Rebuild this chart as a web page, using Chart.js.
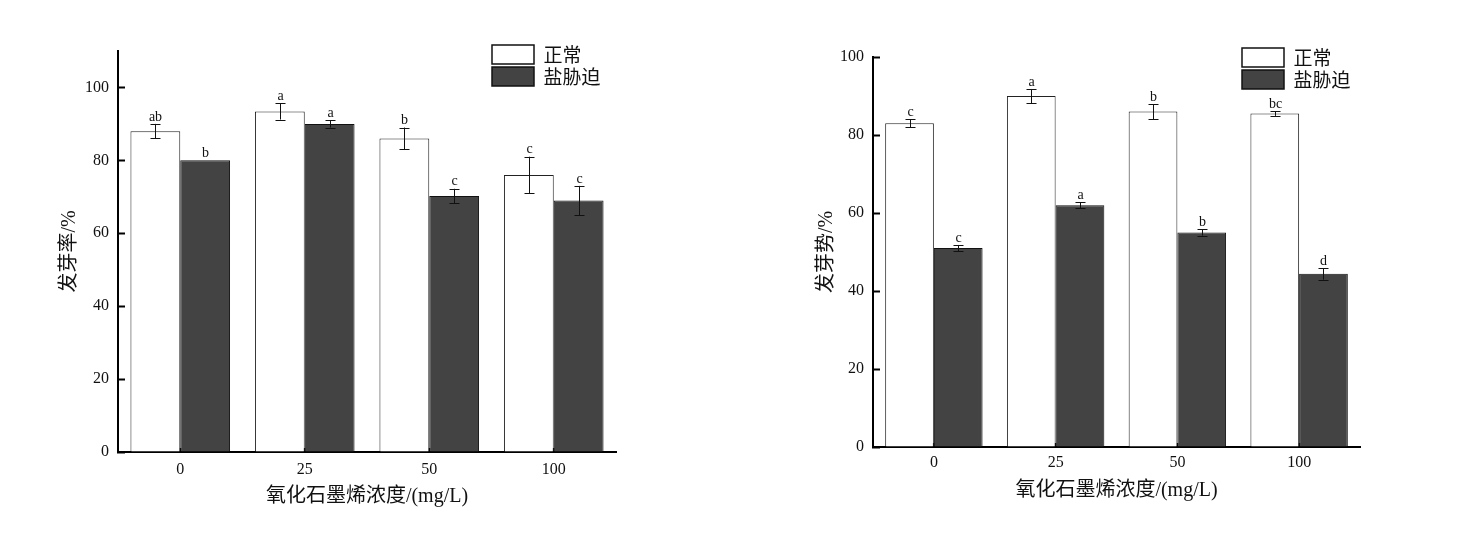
<!DOCTYPE html>
<html>
<head>
<meta charset="utf-8">
<script src="https://cdn.jsdelivr.net/npm/chart.js@4/dist/chart.umd.min.js"></script>
<style>
  html, body { margin: 0; padding: 0; background: #ffffff; }
  #wrap { position: relative; width: 1466px; height: 553px; }
  .panel { position: absolute; top: 0; width: 733px; height: 553px; }
</style>
</head>
<body>
<div id="wrap">
  <div class="panel" style="left:0"><canvas id="rateChart" width="733" height="553"></canvas></div>
  <div class="panel" style="left:733px"><canvas id="vigorChart" width="733" height="553"></canvas></div>
</div>
<script>
// 氧化石墨烯浓度 (mg/L)
const concentrations = ['0', '25', '50', '100'];
const seriesNames = ['正常', '盐胁迫'];

// 发芽率 /%
const rateNormal = [88, 93.4, 86, 76];
const rateNormalErr = [2, 2.2, 3, 5];
const rateNormalSig = ['ab', 'a', 'b', 'c'];
const rateSalt = [80, 90, 70.2, 69];
const rateSaltErr = [0, 1, 2, 4];
const rateSaltSig = ['b', 'a', 'c', 'c'];
const rateTicks = [0, 20, 40, 60, 80, 100];

// 发芽势 /%
const vigorNormal = [83, 90, 86, 85.5];
const vigorNormalErr = [1, 1.8, 1.9, 0.6];
const vigorNormalSig = ['c', 'a', 'b', 'bc'];
const vigorSalt = [51, 62, 55, 44.4];
const vigorSaltErr = [0.8, 0.8, 0.8, 1.5];
const vigorSaltSig = ['c', 'a', 'b', 'd'];
const vigorTicks = [0, 20, 40, 60, 80, 100];

const SERIF = '"Liberation Serif", "Noto Sans CJK SC", serif';
Chart.defaults.font.family = SERIF;
Chart.defaults.color = '#111';

// error bars with significance letters above each bar
const errorBars = {
  id: 'errorBars',
  afterDatasetsDraw(chart, args, opts) {
    const ctx = chart.ctx;
    const yScale = chart.scales.y;
    ctx.save();
    chart.data.datasets.forEach((ds, i) => {
      const meta = chart.getDatasetMeta(i);
      meta.data.forEach((bar, j) => {
        const v = ds.data[j];
        const e = ds.errors[j];
        const x = Math.round(bar.x) + 0.5;
        const top = yScale.getPixelForValue(v + e);
        const bot = yScale.getPixelForValue(v - e);
        if (e > 0) {
          const half = opts.capWidth / 2;
          ctx.strokeStyle = opts.color;
          ctx.lineWidth = 1;
          ctx.beginPath();
          ctx.moveTo(x, top); ctx.lineTo(x, bot);
          ctx.moveTo(x - half, Math.round(top) + 0.5); ctx.lineTo(x + half, Math.round(top) + 0.5);
          ctx.moveTo(x - half, Math.round(bot) + 0.5); ctx.lineTo(x + half, Math.round(bot) + 0.5);
          ctx.stroke();
        }
        ctx.fillStyle = opts.color;
        ctx.font = '14px ' + SERIF;
        ctx.textAlign = 'center';
        ctx.textBaseline = 'middle';
        ctx.fillText(ds.sig[j], x, top - opts.labelGap);
      });
    });
    ctx.restore();
  }
};

// places the vertical legend near the top-right corner of the plot
const legendPlacement = {
  id: 'legendPlacement',
  afterLayout(chart, args, opts) {
    const lg = chart.legend;
    const a = chart.chartArea;
    lg.left = a.right - opts.fromRight;
    lg.right = lg.left + lg.width + 20;
    lg.top = a.top + opts.fromTop;
    lg.bottom = lg.top + 60;
  }
};

function legendLabels(chart) {
  const items = Chart.defaults.plugins.legend.labels.generateLabels(chart);
  items.forEach(it => { it.lineWidth = 1.5; it.strokeStyle = '#111'; });
  return items;
}

function makeChart(id, cfg) {
  return new Chart(document.getElementById(id), {
    type: 'bar',
    data: {
      labels: concentrations,
      datasets: [
        {
          label: seriesNames[0], data: cfg.normal, errors: cfg.normalErr, sig: cfg.normalSig,
          backgroundColor: '#ffffff', borderColor: '#222222', borderWidth: 1,
          barPercentage: 1, categoryPercentage: 0.8
        },
        {
          label: seriesNames[1], data: cfg.salt, errors: cfg.saltErr, sig: cfg.saltSig,
          backgroundColor: '#434343', borderColor: '#111111', borderWidth: 1,
          barPercentage: 1, categoryPercentage: 0.8
        }
      ]
    },
    options: {
      responsive: false,
      animation: false,
      devicePixelRatio: 1,
      layout: { padding: { left: 0, right: cfg.padRight, top: cfg.padTop, bottom: 0 } },
      plugins: {
        tooltip: { enabled: false },
        legend: {
          position: 'chartArea',
          align: 'start',
          labels: {
            boxWidth: 42, boxHeight: 19, padding: 3,
            font: { size: 19, family: '"Noto Sans CJK SC", sans-serif' },
            color: '#111',
            generateLabels: legendLabels
          }
        },
        legendPlacement: cfg.legend,
        errorBars: { color: '#111', capWidth: 10, labelGap: 7 }
      },
      scales: {
        x: {
          offset: true,
          grid: { offset: false, drawOnChartArea: false, drawTicks: true, tickLength: -4, tickWidth: 2, tickColor: '#000' },
          border: { display: true, color: '#000', width: 2 },
          ticks: { font: { size: 16 }, color: '#111', padding: cfg.xTickPad, maxRotation: 0 },
          title: {
            display: true, text: '氧化石墨烯浓度/(mg/L)', color: '#111',
            font: { size: 20 }, padding: { top: 0, bottom: cfg.xTitlePad }
          },
          afterFit(s) { s.height = cfg.xHeight; }
        },
        y: {
          min: 0, max: cfg.yMax,
          afterBuildTicks(s) { s.ticks = cfg.ticks.map(v => ({ value: v })); },
          grid: { drawOnChartArea: false, drawTicks: true, tickLength: -7, tickWidth: 2, tickColor: '#000' },
          border: { display: true, color: '#000', width: 2 },
          ticks: { font: { size: 16 }, color: '#111', padding: 16 },
          title: {
            display: true, text: cfg.yTitle, color: '#111',
            font: { size: 20 }, padding: { top: cfg.yTitlePad, bottom: 0 }
          },
          afterFit(s) { s.width = cfg.yWidth; }
        }
      }
    },
    plugins: [errorBars, legendPlacement]
  });
}

makeChart('rateChart', {
  normal: rateNormal, normalErr: rateNormalErr, normalSig: rateNormalSig,
  salt: rateSalt, saltErr: rateSaltErr, saltSig: rateSaltSig,
  ticks: rateTicks, yMax: 110, yTitle: '发芽率/%',
  padRight: 117, padTop: 51, yWidth: 118, xHeight: 101,
  xTickPad: 12, xTitlePad: 44, yTitlePad: 58,
  legend: { fromRight: 127, fromTop: -9 }
});

makeChart('vigorChart', {
  normal: vigorNormal, normalErr: vigorNormalErr, normalSig: vigorNormalSig,
  salt: vigorSalt, saltErr: vigorSaltErr, saltSig: vigorSaltSig,
  ticks: vigorTicks, yMax: 100, yTitle: '发芽势/%',
  padRight: 106, padTop: 57, yWidth: 140, xHeight: 106,
  xTickPad: 10, xTitlePad: 50, yTitlePad: 82,
  legend: { fromRight: 121, fromTop: -12 }
});
</script>
</body>
</html>
